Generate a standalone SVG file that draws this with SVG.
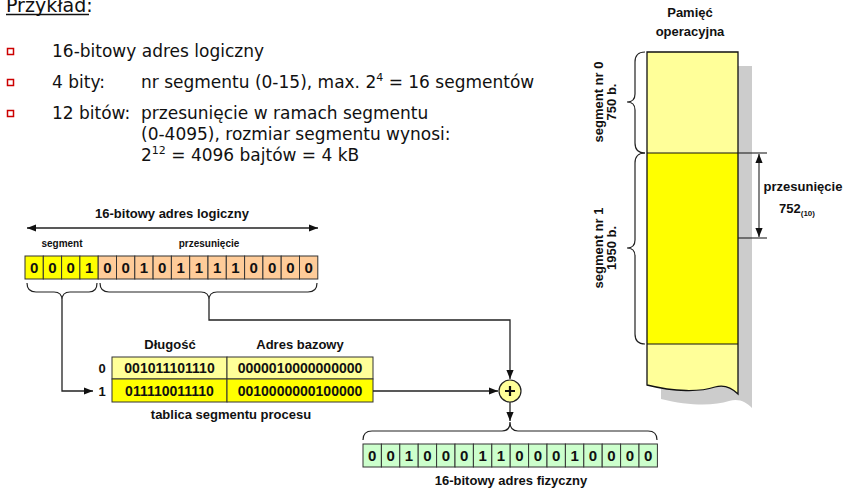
<svg xmlns="http://www.w3.org/2000/svg" width="857" height="490" viewBox="0 0 857 490">
  <defs>
    <marker id="arr" viewBox="0 0 10 8" refX="10" refY="4" markerWidth="9" markerHeight="8" markerUnits="userSpaceOnUse" orient="auto-start-reverse">
      <path d="M0,0 L10,4 L0,8 z" fill="#111"/>
    </marker>
  </defs>
  <style>
    .body{font-family:"DejaVu Sans",Tahoma,sans-serif;font-size:17px;fill:#111}
    .lbl{font-family:"Liberation Sans",Arial,sans-serif;font-weight:bold;font-size:13px;text-anchor:middle;fill:#111}
    .small{font-size:10px}
    .bit{font-family:"Liberation Sans",Arial,sans-serif;font-weight:bold;font-size:15px;text-anchor:middle;fill:#111}
    .tv{font-family:"Liberation Sans",Arial,sans-serif;font-weight:bold;font-size:14px;text-anchor:middle;fill:#111}
    .cell{stroke:#333;stroke-width:1}
    .seg{fill:#ffff00}
    .off{fill:#ffcc99}
    .phy{fill:#ccffcc}
    .ln{fill:none;stroke:#222;stroke-width:1.3}
    .br{fill:none;stroke:#222;stroke-width:1.2}
    .bul{fill:none;stroke:#cc0000;stroke-width:1.5}
  </style>

  <!-- heading and bullet list -->
  <g id="intro">
    <text x="6" y="12" font-family="DejaVu Sans,Tahoma,sans-serif" font-size="19" fill="#111">Przykład:</text>
    <line x1="6" y1="14.5" x2="89" y2="14.5" stroke="#111" stroke-width="1.5"/>
    <rect class="bul" x="7.5" y="48.5" width="6" height="6"/>
    <rect class="bul" x="7.5" y="79.5" width="6" height="6"/>
    <rect class="bul" x="7.5" y="110.5" width="6" height="6"/>
    <text class="body" x="52" y="57">16-bitowy adres logiczny</text>
    <text class="body" x="52" y="88">4 bity:</text>
    <text class="body" x="141" y="88">nr segmentu (0-15), max. 2<tspan font-size="11" dy="-7">4</tspan><tspan dy="7"> = 16 segmentów</tspan></text>
    <text class="body" x="52" y="119">12 bitów:</text>
    <text class="body" x="141" y="119">przesunięcie w ramach segmentu</text>
    <text class="body" x="141" y="140">(0-4095), rozmiar segmentu wynosi:</text>
    <text class="body" x="141" y="161">2<tspan font-size="11" dy="-7">12</tspan><tspan dy="7"> = 4096 bajtów = 4 kB</tspan></text>
  </g>

  <!-- logical address -->
  <g id="logical-address">
    <text class="lbl" x="172" y="218">16-bitowy adres logiczny</text>
    <text class="lbl small" x="62" y="247">segment</text>
    <text class="lbl small" x="209" y="247">przesunięcie</text>
    <g class="cell">
      <rect class="seg" x="25" y="256" width="18.3" height="23"/>
      <rect class="seg" x="43.3" y="256" width="18.3" height="23"/>
      <rect class="seg" x="61.6" y="256" width="18.3" height="23"/>
      <rect class="seg" x="79.9" y="256" width="18.3" height="23"/>
      <rect class="off" x="98.2" y="256" width="18.3" height="23"/>
      <rect class="off" x="116.5" y="256" width="18.3" height="23"/>
      <rect class="off" x="134.8" y="256" width="18.3" height="23"/>
      <rect class="off" x="153.1" y="256" width="18.3" height="23"/>
      <rect class="off" x="171.4" y="256" width="18.3" height="23"/>
      <rect class="off" x="189.7" y="256" width="18.3" height="23"/>
      <rect class="off" x="208" y="256" width="18.3" height="23"/>
      <rect class="off" x="226.3" y="256" width="18.3" height="23"/>
      <rect class="off" x="244.6" y="256" width="18.3" height="23"/>
      <rect class="off" x="262.9" y="256" width="18.3" height="23"/>
      <rect class="off" x="281.2" y="256" width="18.3" height="23"/>
      <rect class="off" x="299.5" y="256" width="18.3" height="23"/>
    </g>
    <g class="bit">
      <text x="34.15" y="273">0</text><text x="52.45" y="273">0</text><text x="70.75" y="273">0</text><text x="89.05" y="273">1</text>
      <text x="107.35" y="273">0</text><text x="125.65" y="273">0</text><text x="143.95" y="273">1</text><text x="162.25" y="273">0</text>
      <text x="180.55" y="273">1</text><text x="198.85" y="273">1</text><text x="217.15" y="273">1</text><text x="235.45" y="273">1</text>
      <text x="253.75" y="273">0</text><text x="272.05" y="273">0</text><text x="290.35" y="273">0</text><text x="308.65" y="273">0</text>
    </g>
  </g>

  <!-- segment table -->
  <g id="segment-table">
    <text class="lbl" x="170" y="349">Długość</text>
    <text class="lbl" x="300" y="349">Adres bazowy</text>
    <text class="lbl" x="102" y="373">0</text>
    <text class="lbl" x="102" y="396">1</text>
    <rect class="cell" x="112" y="357" width="115" height="22" fill="#ffff99"/>
    <rect class="cell" x="227" y="357" width="146" height="22" fill="#ffff99"/>
    <rect class="cell" x="112" y="379" width="115" height="23" fill="#ffff00"/>
    <rect class="cell" x="227" y="379" width="146" height="23" fill="#ffff00"/>
    <text class="tv" x="169.5" y="373">001011101110</text>
    <text class="tv" x="300" y="373">0000010000000000</text>
    <text class="tv" x="169.5" y="396">011110011110</text>
    <text class="tv" x="300" y="396">0010000000100000</text>
    <text class="lbl" x="231" y="419">tablica segmentu procesu</text>
  </g>

  <!-- adder -->
  <g id="adder">
    <circle cx="510" cy="391" r="11" fill="#ffff99" stroke="#222" stroke-width="1.2"/>
    <path d="M505,391 H515 M510,386 V396" stroke="#111" stroke-width="2.2"/>
  </g>

  <!-- physical address -->
  <g id="physical-address">
    <g class="cell">
      <rect class="phy" x="363" y="444" width="18.4" height="23"/>
      <rect class="phy" x="381.4" y="444" width="18.4" height="23"/>
      <rect class="phy" x="399.8" y="444" width="18.4" height="23"/>
      <rect class="phy" x="418.2" y="444" width="18.4" height="23"/>
      <rect class="phy" x="436.6" y="444" width="18.4" height="23"/>
      <rect class="phy" x="455" y="444" width="18.4" height="23"/>
      <rect class="phy" x="473.4" y="444" width="18.4" height="23"/>
      <rect class="phy" x="491.8" y="444" width="18.4" height="23"/>
      <rect class="phy" x="510.2" y="444" width="18.4" height="23"/>
      <rect class="phy" x="528.6" y="444" width="18.4" height="23"/>
      <rect class="phy" x="547" y="444" width="18.4" height="23"/>
      <rect class="phy" x="565.4" y="444" width="18.4" height="23"/>
      <rect class="phy" x="583.8" y="444" width="18.4" height="23"/>
      <rect class="phy" x="602.2" y="444" width="18.4" height="23"/>
      <rect class="phy" x="620.6" y="444" width="18.4" height="23"/>
      <rect class="phy" x="639" y="444" width="18.4" height="23"/>
    </g>
    <g class="bit">
      <text x="372.2" y="461">0</text><text x="390.6" y="461">0</text><text x="409" y="461">1</text><text x="427.4" y="461">0</text>
      <text x="445.8" y="461">0</text><text x="464.2" y="461">0</text><text x="482.6" y="461">1</text><text x="501" y="461">1</text>
      <text x="519.4" y="461">0</text><text x="537.8" y="461">0</text><text x="556.2" y="461">0</text><text x="574.6" y="461">1</text>
      <text x="593" y="461">0</text><text x="611.4" y="461">0</text><text x="629.8" y="461">0</text><text x="648.2" y="461">0</text>
    </g>
    <text class="lbl" x="511" y="485">16-bitowy adres fizyczny</text>
  </g>

  <!-- main memory -->
  <g id="memory">
    <text class="lbl" x="690" y="17">Pamięć</text>
    <text class="lbl" x="690" y="36">operacyjna</text>
    <path d="M661,66 H752 V408 C746,402 739,398 729,401 C714,406 689,406 661,399 Z" fill="#cccccc"/>
    <rect x="647" y="52" width="91" height="101" fill="#ffff99"/>
    <rect x="647" y="153" width="91" height="191" fill="#ffff00"/>
    <path d="M647,344 H738 V394 C732,388 725,384 715,387 C700,392 675,392 647,385 Z" fill="#ffff99"/>
    <path d="M647,52 H738 V394 C732,388 725,384 715,387 C700,392 675,392 647,385 Z" fill="none" stroke="#111" stroke-width="1.3"/>
    <line x1="647" y1="153" x2="738" y2="153" stroke="#111" stroke-width="1.2"/>
    <line x1="647" y1="344" x2="738" y2="344" stroke="#111" stroke-width="1.2"/>
    <text class="lbl" transform="translate(603,102) rotate(-90)">segment nr 0</text>
    <text class="lbl" transform="translate(616,102) rotate(-90)">750 b.</text>
    <text class="lbl" transform="translate(603,248) rotate(-90)">segment nr 1</text>
    <text class="lbl" transform="translate(616,248) rotate(-90)">1950 b.</text>
    <text class="lbl" x="803" y="191">przesunięcie</text>
    <text class="lbl" x="797" y="213">752<tspan font-size="8" dy="3">(10)</tspan></text>
  </g>

  <!-- connectors, braces and dimension arrows -->
  <g id="connectors">
    <line class="ln" x1="27" y1="228" x2="318" y2="228" marker-start="url(#arr)" marker-end="url(#arr)"/>
    <path class="br" d="M27,283 Q27,292 36,292 H54 Q62,292 62,300 Q62,292 70,292 H89 Q97,292 97,283"/>
    <path class="br" d="M100,283 Q100,292 109,292 H201 Q209,292 209,300 Q209,292 217,292 H308 Q317,292 317,283"/>
    <path class="ln" d="M62,300 V391 H93" marker-end="url(#arr)"/>
    <path class="ln" d="M209,300 V320 H510 V379" marker-end="url(#arr)"/>
    <line class="ln" x1="373" y1="391" x2="498" y2="391" marker-end="url(#arr)"/>
    <line class="ln" x1="510" y1="402" x2="510" y2="421" marker-end="url(#arr)"/>
    <path class="br" d="M363,440 Q363,431 372,431 H502 Q510,431 510,422 Q510,431 518,431 H648 Q657,431 657,440"/>
    <path class="br" d="M645,52 Q635,52 635,62 V94 Q635,102 627,102 Q635,102 635,110 V143 Q635,153 645,153"/>
    <path class="br" d="M645,153 Q635,153 635,163 V240 Q635,248 627,248 Q635,248 635,256 V334 Q635,344 645,344"/>
    <line x1="738" y1="153" x2="767" y2="153" stroke="#222" stroke-width="1.1"/>
    <line x1="738" y1="238" x2="767" y2="238" stroke="#222" stroke-width="1.1"/>
    <line x1="759" y1="154" x2="759" y2="237" stroke="#444" stroke-width="1.3" marker-start="url(#arr)" marker-end="url(#arr)"/>
  </g>
</svg>
